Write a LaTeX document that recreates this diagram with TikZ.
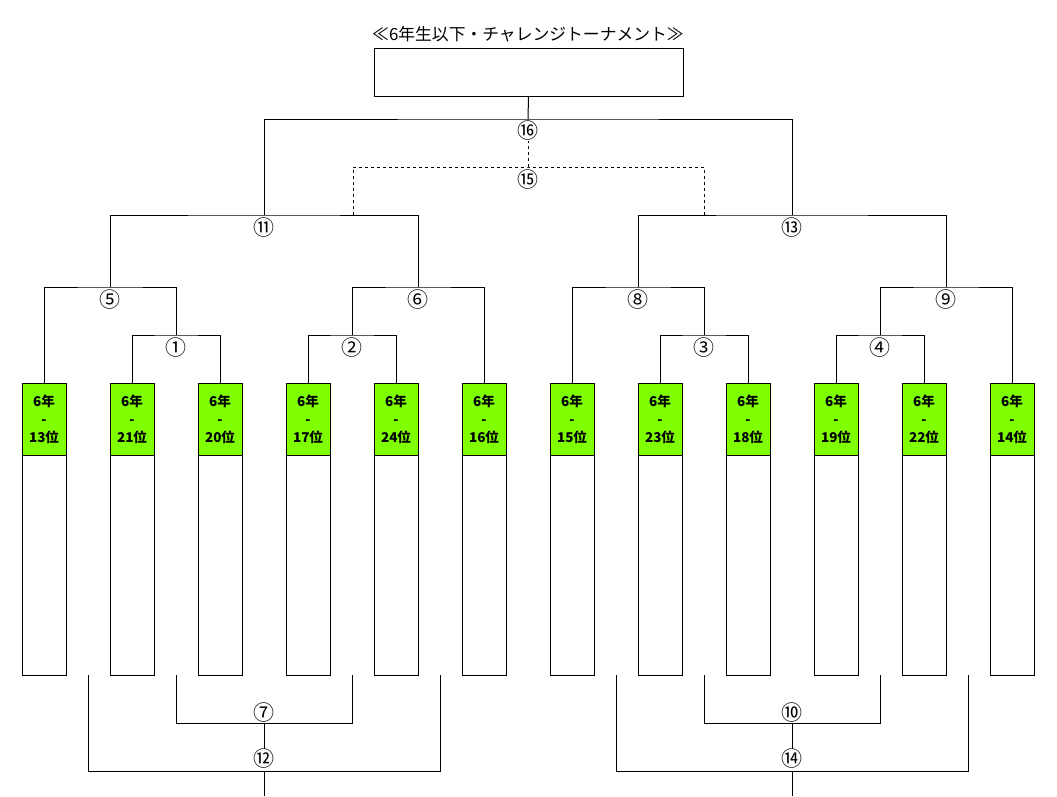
\documentclass[tikz,border=0pt]{standalone}
\usepackage{fontspec}
\newfontfamily\cjk{Noto Sans CJK JP}
\definecolor{rankgreen}{RGB}{128,255,0}
\tikzset{
  team/.style={draw,fill=rankgreen,minimum width=44,minimum height=72,inner sep=0,
    align=center,font=\cjk\bfseries\fontsize{13.5}{18}\selectfont},
  slot/.style={draw,minimum width=44,minimum height=220,inner sep=0},
  mnum/.style={inner sep=0,font=\cjk\fontsize{21}{21}\selectfont},
}
\begin{document}
\begin{tikzpicture}[x=1pt,y=-1pt,line width=1pt]
\useasboundingbox (0,0) rectangle (1057,796);

\node[font=\cjk\fontsize{16.8}{16.8}\selectfont] (title) at (528,34) {≪6年生以下・チャレンジトーナメント≫};
\node[draw,minimum width=309,minimum height=48,inner sep=0] (champ) at (528.5,72) {};

% teams
\foreach \i/\x/\r in {1/44/13,2/132/21,3/220/20,4/308/17,5/396/24,6/484/16,
                      7/572/15,8/660/23,9/748/18,10/836/19,11/924/22,12/1012/14}{
  \node[team] (t\i) at (\x,419) {6年\\-\\{\r}位};
  \node[slot] (w\i) at (\x,565) {};
}

% bracket corners
\coordinate (j1) at (176,335);
\coordinate (j2) at (352,335);
\coordinate (j3) at (704,335);
\coordinate (j4) at (880,335);
\coordinate (j5) at (110,287);
\coordinate (j6) at (418,287);
\coordinate (j8) at (638,287);
\coordinate (j9) at (946,287);
\coordinate (j11) at (264,215);
\coordinate (j13) at (792,215);
\coordinate (j15) at (528,167);
\coordinate (j16) at (528,119);
\coordinate (l15) at (353,215);
\coordinate (r15) at (704,215);

\draw (t2.north) |- (j1) -| (t3.north);
\draw (t4.north) |- (j2) -| (t5.north);
\draw (t8.north) |- (j3) -| (t9.north);
\draw (t10.north) |- (j4) -| (t11.north);
\draw (t1.north) |- (j5) -| (j1);
\draw (j2) |- (j6) -| (t6.north);
\draw (t7.north) |- (j8) -| (j3);
\draw (j4) |- (j9) -| (t12.north);
\draw (j5) |- (j11) -| (j6);
\draw (j8) |- (j13) -| (j9);
\draw (j11) |- (j16) -| (j13);
\draw (j16) -- (champ.south);

\node[mnum] (m1) at (176,348) {①};
\node[mnum] (m2) at (352,348) {②};
\node[mnum] (m3) at (704,348) {③};
\node[mnum] (m4) at (880,348) {④};
\node[mnum] (m5) at (110,300) {⑤};
\node[mnum] (m6) at (418,300) {⑥};
\node[mnum] (m8) at (638,300) {⑧};
\node[mnum] (m9) at (946,300) {⑨};
\node[mnum] (m11) at (264,228) {⑪};
\node[mnum] (m13) at (792,228) {⑬};
\node[mnum] (m15) at (528,180) {⑮};
\node[mnum] (m16) at (528,131) {⑯};

\draw[dashed] (l15) |- (j15) -| (r15);
\draw[dashed] (j15) -- (m16.south);

% lower brackets
\coordinate (a7) at (176,675);
\coordinate (b7) at (352,675);
\coordinate (j7) at (264,723);
\coordinate (a12) at (88,675);
\coordinate (b12) at (440,675);
\coordinate (j12) at (264,771);
\coordinate (e12) at (264,796);
\coordinate (a10) at (704,675);
\coordinate (b10) at (880,675);
\coordinate (j10) at (792,723);
\coordinate (a14) at (616,675);
\coordinate (b14) at (968,675);
\coordinate (j14) at (792,771);
\coordinate (e14) at (792,796);

\node[mnum] (m7) at (264,713) {⑦};
\node[mnum] (m12) at (264,759) {⑫};
\node[mnum] (m10) at (792,713) {⑩};
\node[mnum] (m14) at (792,759) {⑭};

\draw (a7) |- (j7) -| (b7);
\draw (j7) -- (m12.north);
\draw (a12) |- (j12) -| (b12);
\draw (j12) -- (e12);
\draw (a10) |- (j10) -| (b10);
\draw (j10) -- (m14.north);
\draw (a14) |- (j14) -| (b14);
\draw (j14) -- (e14);
\end{tikzpicture}
\end{document}
